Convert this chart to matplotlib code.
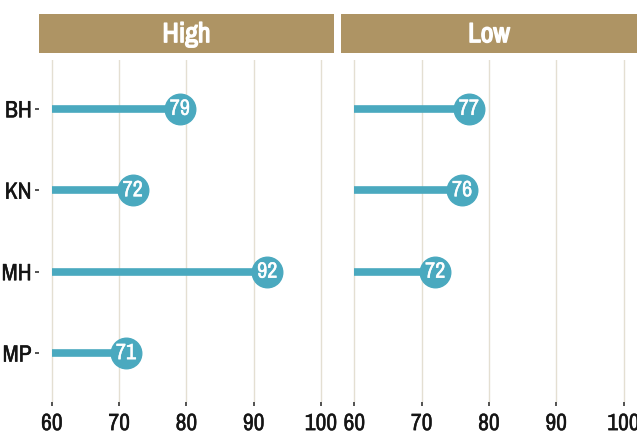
import matplotlib
matplotlib.use("Agg")
import matplotlib.pyplot as plt
from matplotlib.patches import Rectangle
from matplotlib import font_manager as fm
import matplotlib.patheffects as pe

categories = ["BH", "KN", "MH", "MP"]
high_values = [79, 72, 92, 71]
low_values = [77, 76, 72, None]
panels = ["High", "Low"]
x_ticks = [60, 70, 80, 90, 100]

names = sorted({f.name for f in fm.fontManager.ttflist})
cond = [n for n in names if 'Narrow' in n or 'Condensed' in n]
fam = cond[:1] + ['DejaVu Sans']
plt.rcParams['font.family'] = fam
plt.rcParams['font.stretch'] = 'condensed'

W, H = 637, 440
fig = plt.figure(figsize=(W / 100, H / 100), dpi=100)

lol_color = "#4aa9bf"
strip_color = "#ae9464"
grid_color = "#e4dfd2"
text_color = "#151515"

panel_px = [(38.5, 334.5), (341, 637)]
ytop, ybot = 60, 402
strip_top, strip_bot = 14, 53

ypos = {c: len(categories) - i for i, c in enumerate(categories)}

def boldify(t, color, w):
    t.set_path_effects([pe.withStroke(linewidth=w, foreground=color)])

for pi, (name, vals) in enumerate(zip(panels, [high_values, low_values])):
    x0, x1 = panel_px[pi]
    ax = fig.add_axes([x0 / W, 1 - ybot / H, (x1 - x0) / W, (ybot - ytop) / H])
    ax.set_xlim(58, 102)
    ax.set_ylim(0.4, len(categories) + 0.6)
    for s in ax.spines.values():
        s.set_visible(False)
    ax.set_xticks(x_ticks)
    ax.set_xticklabels([str(t) for t in x_ticks])
    ax.set_yticks([ypos[c] for c in categories])
    ax.tick_params(axis='x', length=3, width=1.2, color="#333333", labelsize=17, pad=5, labelcolor=text_color)
    if pi == 0:
        ax.set_yticklabels(categories)
        ax.tick_params(axis='y', length=3, width=1.2, color="#333333", labelsize=17, pad=2, labelcolor=text_color)
    else:
        ax.set_yticks([])
    for lab in ax.get_xticklabels() + ax.get_yticklabels():
        boldify(lab, text_color, 0.3)
    for t in x_ticks:
        ax.axvline(t, color=grid_color, lw=1, zorder=0)
    for c, v in zip(categories, vals):
        if v is None:
            continue
        y = ypos[c]
        ax.plot([60, v], [y, y], color=lol_color, lw=5.5, solid_capstyle='butt', zorder=2)
        ax.plot([v], [y], 'o', ms=22, color=lol_color, zorder=3)
        t = ax.text(v, y, str(v), ha='center', va='center', color='white', fontsize=16, zorder=4)
        boldify(t, 'white', 0.3)
    sax = fig.add_axes([x0 / W, 1 - strip_bot / H, (x1 - x0) / W, (strip_bot - strip_top) / H])
    sax.set_xlim(0, 1)
    sax.set_ylim(0, 1)
    sax.axis('off')
    sax.add_patch(Rectangle((0, 0), 1, 1, color=strip_color))
    t = sax.text(0.5, 0.47, name, ha='center', va='center', color='white', fontsize=20, fontweight='bold')
    boldify(t, 'white', 1.0)

fig.savefig("out.png", dpi=100)
